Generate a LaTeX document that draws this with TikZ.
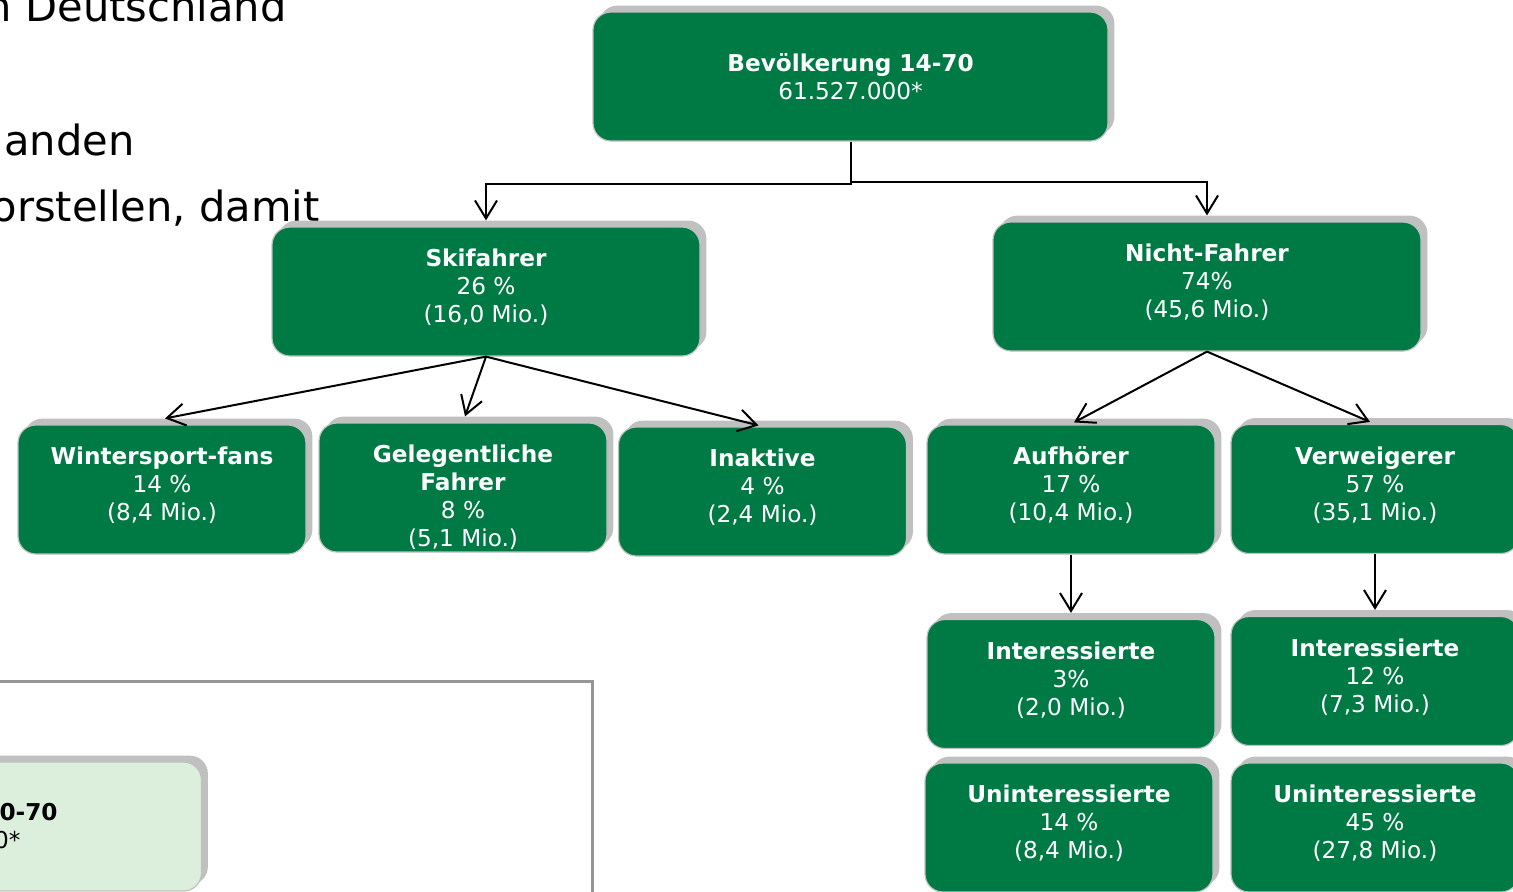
\documentclass[tikz,border=0pt]{standalone}
\usepackage{fontspec}
\setmainfont{DejaVu Sans}
\usetikzlibrary{arrows.meta,shadows}
\definecolor{dgreen}{RGB}{0,122,69}
\definecolor{lgreen}{RGB}{220,239,221}
\definecolor{shgray}{RGB}{192,192,192}
\definecolor{framegray}{RGB}{150,150,150}
\tikzset{
  boxbase/.style={rectangle, rounded corners=9pt, draw=shgray, line width=0.6pt,
    inner sep=0pt,
    drop shadow={shadow xshift=3.2pt, shadow yshift=3.2pt, fill=shgray, opacity=1}},
  gbox/.style={boxbase, fill=dgreen, minimum width=144pt, minimum height=64.5pt},
  widebox/.style={gbox, minimum width=214pt},
  topbox/.style={gbox, minimum width=257.5pt},
  lbox/.style={boxbase, fill=lgreen, minimum width=257.5pt, minimum height=64.5pt},
  txt/.style={text=white, align=center, inner sep=0pt, font=\fontsize{11.6}{14}\selectfont},
  ltxt/.style={inner sep=0pt, anchor=base east, text=black, font=\fontsize{11.6}{14}\selectfont},
  bigtxt/.style={inner sep=0pt, anchor=base east, font=\fontsize{20.8}{24}\selectfont},
  arr/.style={line width=1pt, -{Straight Barb[length=9pt,width=11pt,line width=1pt]}},
}
\begin{document}
\begin{tikzpicture}[x=0.5pt,y=-0.5pt]
\useasboundingbox (0,0) rectangle (1513,891);
\clip (0,0) rectangle (1513,891);

% background body text
\node[bigtxt] (t1) at (287,21.7) {n Deutschland};
\node[bigtxt] (t2) at (135,155) {anden};
\node[bigtxt] (t3) at (320,221.7) {orstellen, damit};

% gray frame
\draw[framegray, line width=1.5pt] (-20,681) coordinate (fa) -- (592,681) coordinate (fb) -- (592,920) coordinate (fc);

% light box
\node[lbox] (lb) at (-56,826.5) {};
\node[ltxt] (lb1) at (58,820) {\textbf{Bevölkerung 10-70}};
\node[ltxt] (lb2) at (21,848) {61.527.000*};

% boxes
\node[topbox] (top) at (850.5,76.5) {};
\node[txt] at (top.center) {\textbf{Bevölkerung 14-70}\\61.527.000*};

\node[widebox] (ski) at (486,291.5) {};
\node[txt] at ([yshift=2pt]ski.center) {\textbf{Skifahrer}\\26 \%\\(16,0 Mio.)};

\node[widebox] (nf) at (1207,286.5) {};
\node[txt] at ([yshift=2pt]nf.center) {\textbf{Nicht-Fahrer}\\74\%\\(45,6 Mio.)};

\node[gbox] (wf) at (162,489.5) {};
\node[txt] at ([yshift=2pt]wf.center) {\textbf{Wintersport-fans}\\14 \%\\(8,4 Mio.)};

\node[gbox] (gf) at (463,487.5) {};
\node[txt] at ([yshift=-4.7pt]gf.center) {\textbf{Gelegentliche}\\\textbf{Fahrer}\\8 \%\\(5,1 Mio.)};

\node[gbox] (ia) at (762.5,491.5) {};
\node[txt] at ([yshift=2pt]ia.center) {\textbf{Inaktive}\\4 \%\\(2,4 Mio.)};

\node[gbox] (au) at (1071,489.5) {};
\node[txt] at ([yshift=2pt]au.center) {\textbf{Aufhörer}\\17 \%\\(10,4 Mio.)};

\node[gbox] (vw) at (1375,489) {};
\node[txt] at ([yshift=2pt]vw.center) {\textbf{Verweigerer}\\57 \%\\(35,1 Mio.)};

\node[gbox] (il) at (1071,684) {};
\node[txt] at ([yshift=2pt]il.center) {\textbf{Interessierte}\\3\%\\(2,0 Mio.)};

\node[gbox] (ir) at (1375,681) {};
\node[txt] at ([yshift=2pt]ir.center) {\textbf{Interessierte}\\12 \%\\(7,3 Mio.)};

\node[gbox] (ul) at (1069,827.5) {};
\node[txt] at ([yshift=2pt]ul.center) {\textbf{Uninteressierte}\\14 \%\\(8,4 Mio.)};

\node[gbox] (ur) at (1375,827.5) {};
\node[txt] at ([yshift=2pt]ur.center) {\textbf{Uninteressierte}\\45 \%\\(27,8 Mio.)};

% connectors
\draw[arr] (top.south) -- ++(0,42) -| ([yshift=3pt]ski.north);
\draw[arr] (top.south) -- ++(0,40) -| ([yshift=3pt]nf.north);

\draw[arr] (ski.south) -- ([xshift=1.5pt,yshift=3pt]wf.north);
\draw[arr] (ski.south) -- ([xshift=1pt,yshift=3pt]gf.north);
\draw[arr] (ski.south) -- ([xshift=-2pt,yshift=0.5pt]ia.north);

\draw[arr] (nf.south) -- ([xshift=1.5pt,yshift=1pt]au.north);
\draw[arr] (nf.south) -- ([xshift=-2.5pt,yshift=1pt]vw.north);

\draw[arr] (au.south) -- ([yshift=3pt]il.north);
\draw[arr] (vw.south) -- ([yshift=3pt]ir.north);
\end{tikzpicture}
\end{document}
